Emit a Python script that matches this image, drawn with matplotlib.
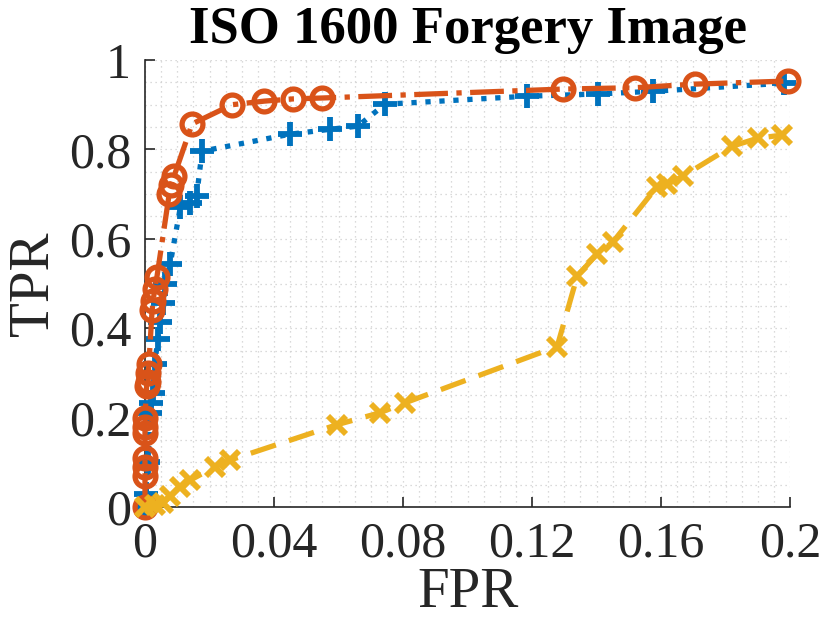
import matplotlib.pyplot as plt
from matplotlib.ticker import MultipleLocator

blue_fpr = [0, 0.0003, 0.001, 0.0015, 0.002, 0.0025, 0.003, 0.004, 0.0047, 0.0056, 0.0062,
            0.0078, 0.011, 0.014, 0.016, 0.0177, 0.045, 0.0574, 0.066, 0.0744, 0.1184,
            0.1405, 0.1575, 0.198]
blue_tpr = [0, 0.03, 0.1, 0.21, 0.233, 0.256, 0.32, 0.375, 0.413, 0.457, 0.50,
            0.543, 0.672, 0.68, 0.695, 0.796, 0.834, 0.845, 0.852, 0.901, 0.919,
            0.924, 0.93, 0.948]

orange_fpr = [0, 0, 0, 0, 0, 0, 0, 0.0005, 0.001, 0.001, 0.0012, 0.0022, 0.0025, 0.003,
              0.0037, 0.0075, 0.008, 0.009, 0.0146, 0.027, 0.037, 0.046, 0.055, 0.1296,
              0.152, 0.1705, 0.1994]
orange_tpr = [0, 0.07, 0.09, 0.11, 0.165, 0.18, 0.20, 0.27, 0.28, 0.30, 0.32, 0.44, 0.46,
              0.487, 0.515, 0.70, 0.72, 0.74, 0.857, 0.90, 0.908, 0.913, 0.915, 0.935,
              0.938, 0.946, 0.953]

yellow_fpr = [0, 0.003, 0.0056, 0.0078, 0.011, 0.014, 0.0217, 0.0264, 0.0595, 0.0729,
              0.0806, 0.1278, 0.134, 0.140, 0.145, 0.1588, 0.162, 0.1668, 0.182, 0.190,
              0.1975]
yellow_tpr = [0, 0.005, 0.01, 0.025, 0.045, 0.06, 0.09, 0.105, 0.184, 0.211, 0.233, 0.359,
              0.516, 0.565, 0.592, 0.717, 0.722, 0.740, 0.807, 0.825, 0.832]

x_ticks = [0, 0.04, 0.08, 0.12, 0.16, 0.2]
x_ticklabels = ['0', '0.04', '0.08', '0.12', '0.16', '0.2']
y_ticks = [0, 0.2, 0.4, 0.6, 0.8, 1]
y_ticklabels = ['0', '0.2', '0.4', '0.6', '0.8', '1']

plt.rcParams['font.family'] = ['Liberation Serif', 'DejaVu Serif']

fig = plt.figure(figsize=(8.3, 6.35), dpi=100)
ax = fig.add_axes([145/830, 1 - 507/635, 645/830, 447/635])

ax.plot(blue_fpr, blue_tpr, ':', color='#0072BD', lw=3.8, marker='+',
        markersize=17, mew=4.2, clip_on=False, zorder=3)
ax.plot(orange_fpr, orange_tpr, '-.', color='#D95319', lw=3.8, marker='o',
        markersize=15, mew=3.8, mfc='none', clip_on=False, zorder=4)
ax.plot(yellow_fpr, yellow_tpr, '--', color='#EDB120', lw=3.8, marker='x',
        markersize=13, mew=4.2, clip_on=False, zorder=5, dashes=(5, 2.6))

ax.set_xlim(0, 0.2)
ax.set_ylim(0, 1)
ax.set_xticks(x_ticks)
ax.set_xticklabels(x_ticklabels)
ax.set_yticks(y_ticks)
ax.set_yticklabels(y_ticklabels)
ax.xaxis.set_minor_locator(MultipleLocator(0.005))
ax.yaxis.set_minor_locator(MultipleLocator(0.05))
ax.grid(which='both', linestyle=(0, (1, 3)), color='#cfcfcf', lw=0.9)
ax.tick_params(which='major', direction='in', length=7, width=1.2, colors='#262626',
               labelsize=36, pad=10)
ax.tick_params(which='minor', length=0)
ax.spines['top'].set_visible(False)
ax.spines['right'].set_visible(False)
for s in ['left', 'bottom']:
    ax.spines[s].set_color('#262626')
    ax.spines[s].set_linewidth(1.2)

ax.set_title('ISO 1600 Forgery Image', fontsize=38, fontweight='bold', pad=12)
ax.set_xlabel('FPR', fontsize=41, color='#262626', labelpad=0)
ax.set_ylabel('TPR', fontsize=41, color='#262626', labelpad=6)

fig.savefig('out.png', dpi=100)
